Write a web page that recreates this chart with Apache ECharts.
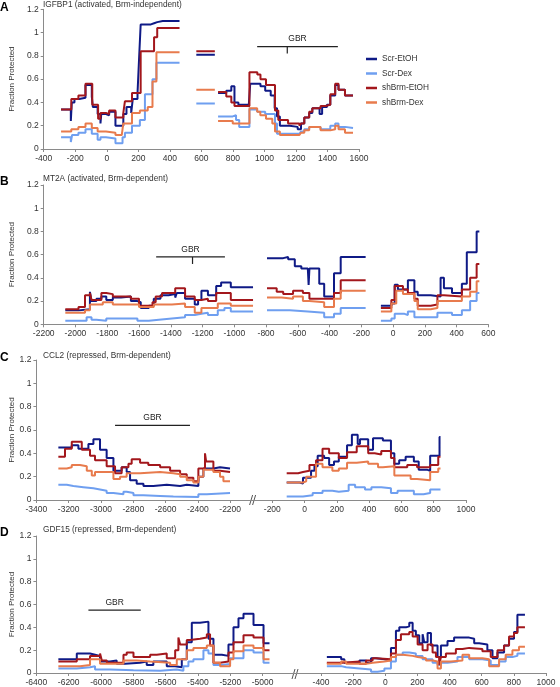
<!DOCTYPE html>
<html><head><meta charset="utf-8">
<script src="https://cdn.jsdelivr.net/npm/echarts@6/dist/echarts.min.js"></script>
<style>html,body{margin:0;padding:0;background:#fff}#c{width:560px;height:687px}</style>
</head><body><div id="c"></div>
<script>
// ---------- labels ----------
const seriesNames = ['Scr-EtOH', 'Scr-Dex', 'shBrm-EtOH', 'shBrm-Dex'];
const panelLetters = ['A', 'B', 'C', 'D'];
const panelTitles = ['IGFBP1 (activated, Brm-independent)', 'MT2A (activated, Brm-dependent)',
  'CCL2 (repressed, Brm-dependent)', 'GDF15 (repressed, Brm-dependent)'];
const yTitle = 'Fraction Protected';
const yTicks = [0, 0.2, 0.4, 0.6, 0.8, 1, 1.2];
const xTicksA = [-400, -200, 0, 200, 400, 600, 800, 1000, 1200, 1400, 1600];
const xTicksB = [-2200, -2000, -1800, -1600, -1400, -1200, -1000, -800, -600, -400, -200, 0, 200, 400, 600];
const xTicksCL = [-3400, -3200, -3000, -2800, -2600, -2400, -2200];
const xTicksCR = [-200, 0, 200, 400, 600, 800, 1000];
const xTicksDL = [-6400, -6200, -6000, -5800, -5600, -5400, -5200, -5000];
const xTicksDR = [-400, -200, 0, 200, 400, 600, 800, 1000];

// ---------- GBR regions [start, end, level, tickPos] ----------
const gbrA = [954, 1466, 0.88, 1145];
const gbrB = [-1492, -1059, 0.58, -1263];
const gbrC = [-2913, -2449, 0.64, null];
const gbrD = [-6078, -5754, 0.55, null];

// ---------- Panel A (segments of [position, value] steps) ----------
const A_ScrEtOH = [
  [[-290,0.34],[-228,0.24],[-222,0.40],[-205,0.43],[-175,0.44],[-135,0.55],[-95,0.45],[-88,0.36],[-58,0.30],[-40,0.22],[-35,0.30],[-5,0.29],[15,0.32],[55,0.20],[105,0.30],[125,0.36],[155,0.31],[165,0.43],[195,0.48],[205,0.78],[215,1.07],[280,1.08],[300,1.09],[320,1.10],[355,1.10]],
  [[568,0.81],[665,0.81]],
  [[706,0.48],[758,0.50],[790,0.54],[810,0.40],[835,0.38],[900,0.36],[910,0.56],[975,0.54],[1005,0.50],[1040,0.46],[1065,0.35],[1080,0.28],[1098,0.20],[1160,0.19],[1211,0.17],[1232,0.22],[1253,0.27],[1284,0.31],[1304,0.35],[1350,0.30],[1366,0.36],[1397,0.38],[1418,0.46],[1449,0.55],[1470,0.51],[1511,0.46],[1562,0.46]]
];
const A_ScrDex = [
  [[-290,0.10],[-228,0.06],[-220,0.12],[-180,0.14],[-135,0.17],[-95,0.13],[-58,0.08],[-40,0.10],[-5,0.09],[55,0.05],[100,0.10],[115,0.14],[160,0.20],[210,0.25],[242,0.47],[290,0.60],[315,0.74],[355,0.74]],
  [[568,0.39],[665,0.39]],
  [[706,0.28],[799,0.29],[820,0.25],[840,0.19],[905,0.34],[954,0.32],[1005,0.30],[1050,0.30],[1067,0.22],[1080,0.13],[1222,0.13],[1232,0.15],[1253,0.17],[1284,0.19],[1356,0.17],[1418,0.20],[1449,0.22],[1470,0.19],[1511,0.18],[1562,0.18]]
];
const A_shBrmEtOH = [
  [[-290,0.34],[-225,0.43],[-180,0.46],[-135,0.56],[-92,0.38],[-55,0.26],[-40,0.31],[-5,0.30],[15,0.33],[55,0.27],[105,0.31],[115,0.41],[160,0.48],[215,0.84],[300,0.96],[320,1.04],[355,1.04]],
  [[568,0.84],[665,0.84]],
  [[706,0.49],[758,0.45],[790,0.40],[810,0.37],[905,0.66],[955,0.64],[975,0.60],[1010,0.55],[1067,0.33],[1088,0.25],[1150,0.22],[1222,0.20],[1232,0.22],[1253,0.27],[1284,0.32],[1304,0.35],[1356,0.37],[1387,0.38],[1418,0.47],[1449,0.56],[1470,0.51],[1511,0.46],[1562,0.46]]
];
const A_shBrmDex = [
  [[-290,0.15],[-225,0.17],[-180,0.19],[-135,0.22],[-95,0.18],[-58,0.15],[-5,0.14],[55,0.12],[95,0.13],[105,0.22],[160,0.31],[210,0.33],[260,0.36],[290,0.58],[315,0.83],[355,0.83]],
  [[568,0.51],[665,0.51]],
  [[706,0.24],[799,0.22],[905,0.35],[954,0.32],[974,0.29],[1010,0.26],[1050,0.22],[1067,0.15],[1098,0.12],[1222,0.11],[1232,0.14],[1253,0.16],[1284,0.19],[1356,0.16],[1418,0.17],[1449,0.20],[1470,0.17],[1511,0.14],[1562,0.14]]
];

// ---------- Panel B ----------
const B_ScrEtOH = [
  [[-2064,0.12],[-1981,0.13],[-1909,0.28],[-1899,0.20],[-1868,0.22],[-1837,0.24],[-1806,0.21],[-1765,0.23],[-1713,0.24],[-1651,0.20],[-1610,0.19],[-1589,0.14],[-1538,0.16],[-1507,0.22],[-1465,0.25],[-1414,0.26],[-1372,0.23],[-1362,0.27],[-1310,0.22],[-1249,0.17],[-1228,0.21],[-1207,0.29],[-1166,0.25],[-1114,0.33],[-1083,0.36],[-1022,0.32],[-970,0.32]],
  [[-794,0.57],[-692,0.58],[-661,0.56],[-619,0.50],[-578,0.48],[-537,0.47],[-532,0.34],[-527,0.48],[-465,0.35],[-434,0.24],[-372,0.44],[-330,0.58],[-269,0.58]],
  [[-77,0.16],[-11,0.18],[10,0.34],[30,0.30],[93,0.38],[134,0.28],[155,0.25],[237,0.24],[299,0.40],[320,0.31],[371,0.27],[433,0.35],[464,0.62],[526,0.80],[543,0.80]]
];
const B_ScrDex = [
  [[-2064,0.03],[-1930,0.06],[-1899,0.04],[-1868,0.03],[-1806,0.05],[-1651,0.05],[-1610,0.03],[-1538,0.04],[-1475,0.05],[-1393,0.06],[-1310,0.08],[-1249,0.09],[-1207,0.10],[-1166,0.08],[-1104,0.12],[-1062,0.14],[-1022,0.11],[-970,0.11]],
  [[-794,0.12],[-650,0.11],[-537,0.10],[-434,0.06],[-372,0.09],[-330,0.14],[-269,0.14]],
  [[-77,0.03],[-11,0.05],[10,0.09],[72,0.08],[93,0.11],[134,0.06],[279,0.10],[371,0.08],[433,0.12],[485,0.20],[526,0.27],[543,0.27]]
];
const B_shBrmEtOH = [
  [[-2064,0.13],[-1981,0.15],[-1940,0.25],[-1909,0.27],[-1899,0.21],[-1837,0.27],[-1806,0.26],[-1765,0.24],[-1651,0.22],[-1600,0.16],[-1515,0.19],[-1495,0.24],[-1455,0.27],[-1372,0.31],[-1310,0.24],[-1249,0.21],[-1207,0.22],[-1166,0.20],[-1114,0.27],[-1022,0.21],[-970,0.21]],
  [[-794,0.31],[-733,0.28],[-692,0.26],[-630,0.29],[-568,0.27],[-527,0.22],[-372,0.27],[-330,0.38],[-269,0.38]],
  [[-77,0.14],[-11,0.21],[10,0.33],[62,0.30],[93,0.27],[134,0.22],[155,0.16],[237,0.17],[279,0.25],[320,0.24],[433,0.30],[485,0.40],[526,0.52],[543,0.52]]
];
const B_shBrmDex = [
  [[-2064,0.10],[-1940,0.12],[-1909,0.17],[-1828,0.19],[-1765,0.17],[-1600,0.15],[-1507,0.17],[-1393,0.18],[-1310,0.15],[-1249,0.10],[-1207,0.14],[-1104,0.18],[-1022,0.16],[-970,0.16]],
  [[-794,0.23],[-702,0.22],[-630,0.24],[-568,0.20],[-527,0.19],[-434,0.15],[-372,0.22],[-330,0.29],[-269,0.29]],
  [[-77,0.11],[-11,0.18],[20,0.29],[62,0.26],[134,0.20],[155,0.13],[237,0.14],[279,0.20],[433,0.24],[485,0.28],[526,0.37],[543,0.37]]
];

// ---------- Panel C (left part / right part of broken axis) ----------
const C_L_ScrEtOH = [[-3264,0.45],[-3181,0.47],[-3140,0.44],[-3078,0.48],[-3047,0.52],[-3006,0.43],[-2965,0.36],[-2923,0.25],[-2872,0.28],[-2841,0.24],[-2820,0.17],[-2779,0.14],[-2737,0.12],[-2676,0.13],[-2593,0.12],[-2510,0.13],[-2469,0.12],[-2397,0.20],[-2366,0.27],[-2304,0.28],[-2263,0.27],[-2201,0.27]];
const C_L_ScrDex = [[-3264,0.13],[-3212,0.12],[-3171,0.11],[-3109,0.10],[-3047,0.09],[-3006,0.08],[-2965,0.06],[-2923,0.05],[-2861,0.07],[-2841,0.06],[-2799,0.04],[-2737,0.035],[-2634,0.03],[-2552,0.025],[-2397,0.05],[-2345,0.06],[-2201,0.06]];
const C_L_shBrmEtOH = [[-3264,0.37],[-3223,0.44],[-3181,0.50],[-3119,0.43],[-3068,0.38],[-3037,0.34],[-2965,0.29],[-2913,0.23],[-2872,0.28],[-2830,0.31],[-2810,0.35],[-2758,0.32],[-2707,0.30],[-2634,0.28],[-2572,0.25],[-2510,0.22],[-2469,0.19],[-2428,0.16],[-2397,0.27],[-2356,0.40],[-2349,0.33],[-2304,0.25],[-2263,0.24],[-2201,0.24]];
const C_L_shBrmDex = [[-3264,0.27],[-3212,0.28],[-3181,0.30],[-3130,0.29],[-3088,0.25],[-3057,0.21],[-3037,0.24],[-2923,0.18],[-2882,0.20],[-2841,0.23],[-2758,0.24],[-2634,0.23],[-2552,0.22],[-2510,0.20],[-2469,0.17],[-2428,0.15],[-2397,0.20],[-2366,0.26],[-2304,0.24],[-2263,0.20],[-2242,0.16],[-2201,0.16]];
const C_R_ScrEtOH = [[-111,0.15],[-30,0.14],[-10,0.19],[40,0.25],[61,0.29],[81,0.38],[121,0.36],[152,0.30],[182,0.33],[212,0.37],[263,0.47],[293,0.56],[329,0.48],[343,0.52],[394,0.43],[424,0.53],[485,0.51],[535,0.40],[556,0.31],[586,0.34],[626,0.37],[677,0.33],[707,0.26],[758,0.25],[778,0.38],[836,0.54],[842,0.54]];
const C_R_ScrDex = [[-111,0.03],[-10,0.04],[50,0.06],[111,0.08],[172,0.07],[212,0.08],[273,0.13],[313,0.11],[374,0.09],[414,0.11],[475,0.10],[535,0.06],[576,0.08],[677,0.05],[737,0.06],[778,0.09],[842,0.09]];
const C_R_shBrmEtOH = [[-111,0.23],[-40,0.24],[-10,0.25],[30,0.30],[71,0.34],[111,0.44],[152,0.40],[212,0.36],[263,0.41],[323,0.46],[394,0.40],[434,0.39],[475,0.42],[535,0.36],[556,0.28],[636,0.30],[697,0.28],[778,0.30],[828,0.37],[842,0.37]];
const C_R_shBrmDex = [[-111,0.15],[-10,0.16],[10,0.20],[71,0.31],[111,0.28],[172,0.25],[212,0.27],[263,0.32],[323,0.33],[394,0.31],[455,0.28],[485,0.29],[556,0.21],[657,0.18],[697,0.17],[778,0.24],[828,0.27],[842,0.27]];

// ---------- Panel D ----------
const D_L_ScrEtOH = [[-6264,0.12],[-6150,0.17],[-6068,0.16],[-6037,0.15],[-6006,0.10],[-5944,0.11],[-5903,0.08],[-5851,0.09],[-5758,0.10],[-5717,0.07],[-5676,0.10],[-5593,0.06],[-5541,0.05],[-5500,0.12],[-5469,0.27],[-5438,0.44],[-5387,0.45],[-5335,0.30],[-5304,0.16],[-5252,0.15],[-5211,0.25],[-5180,0.40],[-5149,0.48],[-5118,0.52],[-5056,0.42],[-4994,0.26],[-4957,0.26]];
const D_L_ScrDex = [[-6264,0.04],[-6150,0.05],[-6068,0.06],[-6037,0.03],[-5944,0.025],[-5799,0.02],[-5634,0.03],[-5531,0.02],[-5490,0.06],[-5459,0.10],[-5428,0.12],[-5366,0.20],[-5335,0.17],[-5304,0.07],[-5252,0.08],[-5201,0.13],[-5118,0.20],[-5056,0.18],[-4994,0.09],[-4957,0.09]];
const D_L_shBrmEtOH = [[-6264,0.10],[-6150,0.12],[-6068,0.15],[-6006,0.17],[-5995,0.11],[-5964,0.09],[-5861,0.16],[-5841,0.18],[-5799,0.14],[-5696,0.16],[-5655,0.17],[-5593,0.13],[-5541,0.20],[-5521,0.31],[-5510,0.25],[-5469,0.29],[-5449,0.30],[-5387,0.31],[-5345,0.34],[-5325,0.24],[-5304,0.09],[-5263,0.10],[-5211,0.18],[-5180,0.27],[-5118,0.33],[-5056,0.31],[-4994,0.20],[-4957,0.20]];
const D_L_shBrmDex = [[-6264,0.06],[-6130,0.07],[-6068,0.12],[-6006,0.08],[-5861,0.11],[-5779,0.10],[-5696,0.09],[-5572,0.07],[-5531,0.12],[-5469,0.20],[-5428,0.22],[-5345,0.24],[-5304,0.09],[-5263,0.06],[-5201,0.12],[-5180,0.19],[-5118,0.24],[-5056,0.22],[-4994,0.12],[-4957,0.12]];
const D_R_ScrEtOH = [[-364,0.14],[-275,0.12],[-255,0.09],[-161,0.11],[-120,0.09],[-89,0.13],[-58,0.12],[-6,0.11],[35,0.22],[66,0.37],[87,0.40],[128,0.41],[149,0.44],[170,0.37],[190,0.33],[211,0.26],[232,0.34],[242,0.27],[263,0.35],[284,0.24],[325,0.14],[346,0.24],[387,0.28],[428,0.31],[522,0.30],[553,0.26],[584,0.25],[635,0.20],[667,0.13],[698,0.18],[739,0.24],[770,0.30],[801,0.36],[822,0.51],[869,0.51]];
const D_R_ScrDex = [[-364,0.06],[-275,0.05],[-244,0.04],[-161,0.03],[-89,0.01],[-48,0.02],[-6,0.04],[35,0.10],[66,0.16],[108,0.18],[149,0.17],[190,0.15],[232,0.12],[294,0.09],[325,0.07],[346,0.09],[387,0.10],[449,0.14],[522,0.12],[604,0.11],[656,0.07],[708,0.10],[749,0.14],[791,0.15],[822,0.17],[869,0.17]];
const D_R_shBrmEtOH = [[-364,0.09],[-265,0.10],[-161,0.08],[-120,0.11],[-79,0.13],[-58,0.12],[35,0.17],[66,0.29],[97,0.34],[149,0.36],[170,0.32],[201,0.25],[232,0.20],[263,0.25],[294,0.18],[315,0.14],[335,0.07],[346,0.14],[377,0.17],[439,0.21],[480,0.22],[522,0.21],[604,0.19],[656,0.14],[698,0.20],[739,0.24],[770,0.32],[801,0.35],[822,0.40],[869,0.40]];
const D_R_shBrmDex = [[-364,0.08],[-275,0.10],[-244,0.08],[-120,0.09],[-79,0.10],[-6,0.11],[35,0.14],[66,0.16],[108,0.15],[170,0.14],[201,0.13],[253,0.11],[294,0.10],[325,0.04],[346,0.10],[408,0.11],[480,0.16],[522,0.13],[604,0.12],[646,0.06],[708,0.12],[749,0.16],[791,0.20],[832,0.23],[869,0.23]];

// ---------- styling ----------
const colors = ['#0f1a86', '#6f9ff0', '#a3171c', '#e87b4d'];
const FONT = 'Liberation Sans, Arial, sans-serif';
const axisGrey = '#8a8a8a';
const textCol = '#333';

function joinSegments(segs) {
  const out = [];
  segs.forEach((s, i) => {
    if (i > 0) out.push([(segs[i-1][segs[i-1].length-1][0] + s[0][0]) / 2, '-']);
    s.forEach(p => out.push(p));
  });
  return out;
}

const grids = [
  {left: 36.4, top: 9.3, width: 322.6, height: 139.7},
  {left: 36.4, top: 185, width: 452, height: 139.3},
  {left: 36.4, top: 360, width: 217.2, height: 140},
  {left: 253.6, top: 360, width: 212.4, height: 140},
  {left: 36.4, top: 536, width: 259.6, height: 138},
  {left: 296, top: 536, width: 250, height: 138}
];
const xRanges = [[-400, 1600], [-2200, 600], [-3400, -2055], [-316, 1000], [-6400, -4793], [-556, 1000]];
const xTickSets = [xTicksA, xTicksB, xTicksCL, xTicksCR, xTicksDL, xTicksDR];
const hasYAxis = [true, true, true, false, true, false];

const xAxis = grids.map((g, i) => ({
  type: 'value', gridIndex: i, min: xRanges[i][0], max: xRanges[i][1],
  axisLine: {show: true, onZero: false, lineStyle: {color: axisGrey, width: 1}},
  axisTick: {show: true, length: 3, lineStyle: {color: axisGrey}, customValues: xTickSets[i]},
  axisLabel: {fontSize: 8.5, color: textCol, margin: 5, fontFamily: FONT, customValues: xTickSets[i], formatter: v => String(v)},
  splitLine: {show: false}
}));
const yAxis = grids.map((g, i) => ({
  type: 'value', gridIndex: i, min: 0, max: 1.2, interval: 0.2, show: hasYAxis[i],
  name: hasYAxis[i] ? yTitle : '', nameLocation: 'middle', nameGap: 21,
  nameTextStyle: {fontSize: 8, color: textCol, fontFamily: FONT},
  axisLine: {show: true, onZero: false, lineStyle: {color: axisGrey, width: 1}},
  axisTick: {show: true, length: 3, lineStyle: {color: axisGrey}, customValues: yTicks},
  axisLabel: {fontSize: 8.5, color: textCol, margin: 5, fontFamily: FONT, customValues: yTicks, formatter: v => String(v)},
  splitLine: {show: false}
}));

const panelData = [
  [0, [A_ScrEtOH, A_ScrDex, A_shBrmEtOH, A_shBrmDex].map(joinSegments)],
  [1, [B_ScrEtOH, B_ScrDex, B_shBrmEtOH, B_shBrmDex].map(joinSegments)],
  [2, [C_L_ScrEtOH, C_L_ScrDex, C_L_shBrmEtOH, C_L_shBrmDex]],
  [3, [C_R_ScrEtOH, C_R_ScrDex, C_R_shBrmEtOH, C_R_shBrmDex]],
  [4, [D_L_ScrEtOH, D_L_ScrDex, D_L_shBrmEtOH, D_L_shBrmDex]],
  [5, [D_R_ScrEtOH, D_R_ScrDex, D_R_shBrmEtOH, D_R_shBrmDex]]
];
const series = [];
panelData.forEach(([gi, arr]) => {
  arr.forEach((d, k) => {
    series.push({
      type: 'line', name: seriesNames[k], step: 'end', symbol: 'none', showSymbol: false,
      xAxisIndex: gi, yAxisIndex: gi, data: d, connectNulls: false, silent: true,
      color: colors[k], lineStyle: {width: 2, color: colors[k]}, z: 2 + k
    });
  });
});

function gbrSeries(gi, g) {
  return {
    type: 'custom', xAxisIndex: gi, yAxisIndex: gi, silent: true, z: 10,
    data: [[g[0], g[1], g[2], g[3] == null ? '-' : g[3]]],
    renderItem: (params, api) => {
      const p1 = api.coord([api.value(0), api.value(2)]);
      const p2 = api.coord([api.value(1), api.value(2)]);
      const children = [
        {type: 'line', shape: {x1: p1[0], y1: p1[1], x2: p2[0], y2: p2[1]}, style: {stroke: '#222', lineWidth: 1.2}},
        {type: 'text', style: {text: 'GBR', x: (p1[0] + p2[0]) / 2, y: p1[1] - 3, align: 'center', verticalAlign: 'bottom', fontSize: 8.5, fill: '#222', fontFamily: FONT}}
      ];
      const t = api.value(3);
      if (!isNaN(t)) {
        const pt = api.coord([t, api.value(2)]);
        children.push({type: 'line', shape: {x1: pt[0], y1: pt[1], x2: pt[0], y2: pt[1] + 7}, style: {stroke: '#222', lineWidth: 1.2}});
      }
      return {type: 'group', children};
    }
  };
}
series.push(gbrSeries(0, gbrA), gbrSeries(1, gbrB), gbrSeries(2, gbrC), gbrSeries(4, gbrD));

const letterTops = [2, 176, 352, 527];
const titleTops = [0.5, 175, 351.5, 526];
const titles = [];
panelLetters.forEach((L, i) => {
  titles.push({text: L, left: 0, top: letterTops[i], padding: 0, textStyle: {fontSize: 12, fontWeight: 'bold', color: '#000', fontFamily: FONT}});
  titles.push({text: panelTitles[i], left: 43, top: titleTops[i], padding: 0, textStyle: {fontSize: 8.3, fontWeight: 'normal', color: textCol, fontFamily: FONT}});
});

function breakMark(x, y) {
  return {type: 'group', children: [
    {type: 'line', shape: {x1: x - 4, y1: y + 5, x2: x - 1, y2: y - 5}, style: {stroke: '#555', lineWidth: 1}},
    {type: 'line', shape: {x1: x - 1, y1: y + 5, x2: x + 2, y2: y - 5}, style: {stroke: '#555', lineWidth: 1}}
  ]};
}

const chart = echarts.init(document.getElementById('c'), null, {renderer: 'canvas'});
chart.setOption({
  animation: false,
  backgroundColor: '#fff',
  textStyle: {fontFamily: FONT},
  title: titles,
  legend: {
    data: seriesNames, orient: 'vertical', left: 366, top: 54, padding: 0,
    icon: 'rect', itemWidth: 11, itemHeight: 2.5, itemGap: 4.5,
    textStyle: {fontSize: 8.3, color: textCol, lineHeight: 10, fontFamily: FONT}
  },
  grid: grids.map(g => Object.assign({containLabel: false}, g)),
  xAxis, yAxis, series,
  graphic: [breakMark(253.6, 500), breakMark(296, 674)]
});
</script></body></html>
